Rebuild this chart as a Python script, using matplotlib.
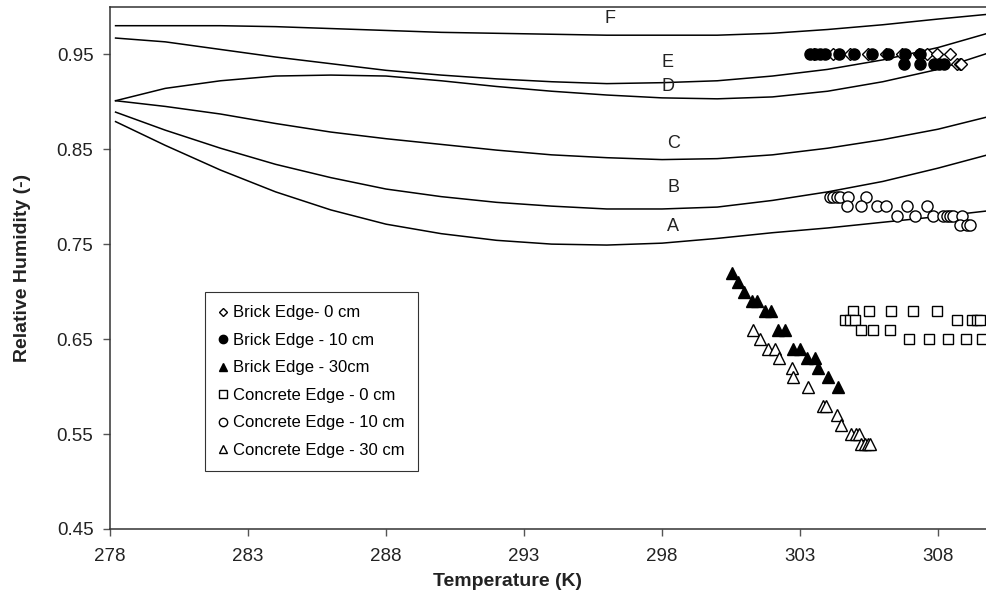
import matplotlib
matplotlib.use("Agg")
import matplotlib.pyplot as plt

plt.rcParams['font.family'] = ['Liberation Sans', 'DejaVu Sans']

# model curves A-F
curve_t = [278.2, 280, 282, 284, 286, 288, 290, 292, 294, 296, 298, 300, 302, 304, 306, 308, 309.8]
curve_A = [0.879, 0.854, 0.828, 0.805, 0.786, 0.771, 0.761, 0.754, 0.750, 0.749, 0.751, 0.756, 0.762, 0.767, 0.773, 0.779, 0.785]
curve_B = [0.889, 0.870, 0.851, 0.834, 0.820, 0.808, 0.800, 0.794, 0.790, 0.787, 0.787, 0.789, 0.796, 0.805, 0.816, 0.830, 0.844]
curve_C = [0.901, 0.895, 0.887, 0.877, 0.868, 0.861, 0.855, 0.849, 0.844, 0.841, 0.839, 0.840, 0.844, 0.851, 0.860, 0.871, 0.884]
curve_D = [0.901, 0.914, 0.922, 0.927, 0.928, 0.927, 0.922, 0.916, 0.911, 0.907, 0.904, 0.903, 0.905, 0.911, 0.921, 0.934, 0.951]
curve_E = [0.967, 0.963, 0.955, 0.947, 0.940, 0.933, 0.928, 0.924, 0.921, 0.919, 0.920, 0.922, 0.927, 0.934, 0.944, 0.957, 0.972]
curve_F = [0.980, 0.980, 0.980, 0.979, 0.977, 0.975, 0.973, 0.972, 0.971, 0.970, 0.970, 0.970, 0.972, 0.976, 0.981, 0.987, 0.992]
curve_names = ["A", "B", "C", "D", "E", "F"]
label_pos = [(298.4, 0.769), (298.4, 0.810), (298.4, 0.856), (298.2, 0.916), (298.2, 0.9416), (296.1, 0.988)]

# measurements
brick0_t = [303.5, 304.2, 304.8, 305.45, 306.1, 306.7, 307.3, 307.6, 307.95, 308.45, 308.7, 308.78, 308.85]
brick0_rh = [0.95] * 10 + [0.94] * 3
brick10_t = [303.36, 303.54, 303.72, 303.9, 304.4, 304.96, 305.61, 306.2, 306.8, 307.35,
             306.77, 307.35, 307.86, 308.04, 308.22]
brick10_rh = [0.95] * 10 + [0.94] * 5
brick30_t = [300.55, 300.74, 300.98, 301.25, 301.43, 301.73, 301.94, 302.21, 302.46,
             302.73, 303.0, 303.24, 303.54, 303.64, 304.0, 304.37]
brick30_rh = [0.72, 0.71, 0.70, 0.69, 0.69, 0.68, 0.68, 0.66, 0.66,
              0.64, 0.64, 0.63, 0.63, 0.62, 0.61, 0.60]
conc0_t = [304.92, 305.5, 306.3, 307.1, 307.96,
           304.63, 304.81, 304.99, 308.69, 309.23, 309.41, 309.52,
           305.21, 305.64, 306.26,
           306.95, 307.67, 308.36, 309.01, 309.6]
conc0_rh = [0.68] * 5 + [0.67] * 7 + [0.66] * 3 + [0.65] * 5
conc10_t = [304.09, 304.2, 304.34, 304.45, 304.74, 305.39,
            304.70, 305.21, 305.79, 306.12, 306.88, 307.6,
            306.51, 307.17, 307.82, 308.18, 308.33, 308.43, 308.54, 308.87,
            308.8, 309.05, 309.16]
conc10_rh = [0.80] * 6 + [0.79] * 6 + [0.78] * 8 + [0.77] * 3
conc30_t = [301.31, 301.55, 301.83, 302.09, 302.25, 302.7, 302.76, 303.3, 303.82, 303.94,
            304.33, 304.49, 304.85, 305.03, 305.15, 305.2, 305.36, 305.48, 305.54]
conc30_rh = [0.66, 0.65, 0.64, 0.64, 0.63, 0.62, 0.61, 0.60, 0.58, 0.58,
             0.57, 0.56, 0.55, 0.55, 0.55, 0.54, 0.54, 0.54, 0.54]

fig = plt.figure(figsize=(9.87, 6.10), dpi=100)
ax = fig.add_axes([0.1115, 0.1328, 0.8948, 0.8562])

for name, rh in zip(curve_names, [curve_A, curve_B, curve_C, curve_D, curve_E, curve_F]):
    ax.plot(curve_t, rh, color="black", lw=1.1, zorder=2)
for name, (tx, ty) in zip(curve_names, label_pos):
    ax.text(tx, ty, name, fontsize=13, ha="center", va="center", color="#222222")

ax.plot(brick0_t, brick0_rh, ls="none", marker="D", ms=6, mfc="white", mec="black", mew=1.0,
        label="Brick Edge- 0 cm", zorder=3)
ax.plot(brick10_t, brick10_rh, ls="none", marker="o", ms=8, mfc="black", mec="black",
        label="Brick Edge - 10 cm", zorder=3)
ax.plot(brick30_t, brick30_rh, ls="none", marker="^", ms=8.5, mfc="black", mec="black",
        label="Brick Edge - 30cm", zorder=3)
ax.plot(conc0_t, conc0_rh, ls="none", marker="s", ms=7, mfc="white", mec="black", mew=1.0,
        label="Concrete Edge - 0 cm", zorder=3)
ax.plot(conc10_t, conc10_rh, ls="none", marker="o", ms=8, mfc="white", mec="black", mew=1.0,
        label="Concrete Edge - 10 cm", zorder=3)
ax.plot(conc30_t, conc30_rh, ls="none", marker="^", ms=8.5, mfc="white", mec="black", mew=1.0,
        label="Concrete Edge - 30 cm", zorder=3)

ax.set_xlim(278, 310)
ax.set_ylim(0.45, 1.0)
ax.set_xticks(range(278, 309, 5))
ax.set_yticks([0.45, 0.55, 0.65, 0.75, 0.85, 0.95])
ax.set_yticklabels(["0.45", "0.55", "0.65", "0.75", "0.85", "0.95"])
ax.tick_params(axis="both", direction="out", length=5, width=1, color="#555555",
               labelsize=13.5, labelcolor="#222222")
ax.tick_params(axis="x", pad=9)
ax.tick_params(axis="y", pad=7)
for side in ["left", "bottom", "top"]:
    ax.spines[side].set_color("#333333")
    ax.spines[side].set_linewidth(1.1)
ax.spines["right"].set_visible(False)

ax.set_xlabel("Temperature (K)", fontsize=14, fontweight="bold", color="#222222")
ax.set_ylabel("Relative Humidity (-)", fontsize=14, fontweight="bold", color="#222222")
ax.xaxis.set_label_coords(0.4495, -0.085)
ax.yaxis.set_label_coords(-0.089, 0.5)

leg = ax.legend(loc="upper left", bbox_to_anchor=(205 / 987, 1 - 292 / 610),
                bbox_transform=fig.transFigure, borderaxespad=0, fontsize=12,
                frameon=True, fancybox=False, edgecolor="black", handlelength=0.6,
                handletextpad=0.3, labelspacing=0.75, borderpad=0.8, markerscale=0.75)
leg.get_frame().set_linewidth(0.8)

fig.savefig("out.png", dpi=100)
